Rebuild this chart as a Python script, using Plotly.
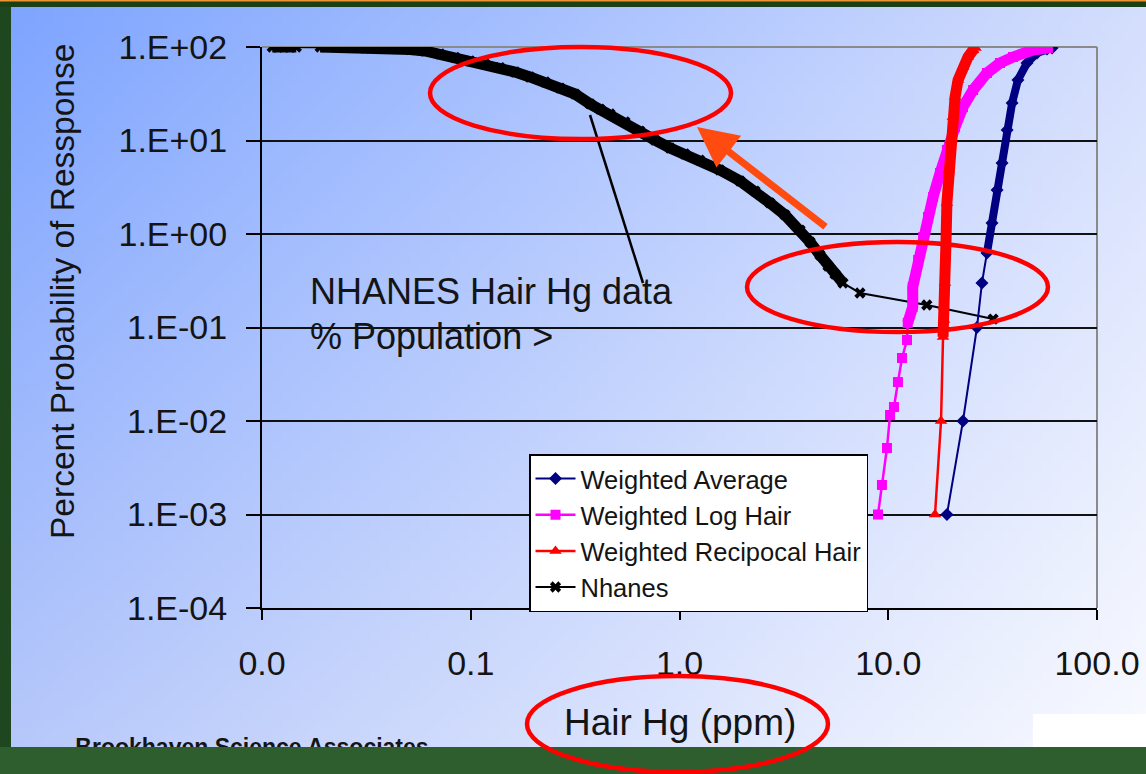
import plotly.graph_objects as go
import zlib, struct, base64

W, H = 1146, 774

# ---------------- data ----------------
x_tickvals = [0.01, 0.1, 1, 10, 100]
x_ticktext = ["0.0", "0.1", "1.0", "10.0", "100.0"]
y_tickvals = [1e-4, 1e-3, 1e-2, 1e-1, 1, 10, 100]
y_ticktext = ["1.E-04", "1.E-03", "1.E-02", "1.E-01", "1.E+00", "1.E+01", "1.E+02"]

avg_x = [19.1, 22.8, 26.6, 28.1, 29.7, 31.4, 33.2, 35.1, 37.1, 39.2, 41.8, 46.2, 51.6, 57.6, 60.9]
avg_y = [0.001, 0.01, 0.1, 0.299, 0.626, 1.31, 2.95, 5.74, 12.95, 25.2, 44.4, 67.4, 86.3, 95.2, 97.6]

log_x = [8.93, 9.33, 9.86, 10.2, 10.65, 11.13, 11.64, 12.3, 12.4, 13.1, 13.1, 13.9, 14.7, 15.5,
         16.4, 17.7, 19.1, 20.9, 22.8, 25.5, 29.7, 34.3, 39.6, 49.4, 58.2]
log_y = [0.001, 0.00207, 0.00514, 0.0116, 0.0141, 0.0261, 0.0472, 0.0735, 0.112, 0.166, 0.271,
         0.527, 0.929, 1.52, 2.49, 4.49, 7.91, 13.9, 22.8, 34.7, 52.7, 67.4, 78.2, 92.9, 97.6]

rec_x = [16.75, 17.9, 18.3, 18.5, 18.5, 18.7, 18.9, 19.1, 19.5, 20.0, 20.4, 20.9, 21.6, 22.8, 24.1, 25.5, 26.2]
rec_y = [0.001, 0.01, 0.0791, 0.120, 0.166, 0.299, 0.801, 2.15, 4.84, 10.1, 17.8, 29.2, 44.4, 61.1, 78.2, 92.9, 97.6]

nh_x = [0.0112, 0.0119, 0.0127, 0.0136, 0.0146,
        0.0190, 0.0224, 0.0264, 0.0311, 0.0368, 0.0434, 0.0512, 0.0604, 0.0712, 0.0841, 0.0992,
        0.117, 0.138, 0.163, 0.192, 0.227, 0.268, 0.316, 0.373, 0.416, 0.465, 0.548, 0.647,
        0.763, 0.901, 1.06, 1.25, 1.56, 1.95, 2.30, 2.71, 3.20, 3.78, 4.22, 4.71, 5.15, 5.56, 6.07,
        7.32, 15.3, 31.8]
nh_y = [100, 100, 100, 100, 100,
        100, 100, 98.8, 97.6, 97.6, 96.4, 94.0, 90.6, 84.1, 77.2, 70.8,
        65.8, 60.3, 54.0, 47.8, 42.2, 36.4, 31.4, 24.6, 21.7, 19.2, 15.8, 12.6,
        10.1, 8.32, 7.17, 6.18, 4.84, 3.69, 2.88, 2.15, 1.60, 1.10, 0.821, 0.596, 0.455, 0.373, 0.299,
        0.234, 0.174, 0.123]

# where the recorded points are packed so densely that they form a solid band
avg_dense_from = 4
log_dense_from = 8
rec_dense_from = 2
nh_dense_segments = [(0, 5), (5, 43)]

NAVY, MAGENTA, RED, BLACK = "#000080", "#FF00FF", "#FF0000", "#000000"
FONT = "Liberation Sans, Arial, sans-serif"
TXT = "#141414"


def P(px, py):
    return px / W, 1 - py / H


def gradient_png(w, h):
    TL, TR, BL, BR = (125, 164, 255), (212, 222, 253), (184, 201, 250), (250, 251, 255)
    rows = bytearray()
    for j in range(h):
        v = j / (h - 1)
        rows.append(0)
        for i in range(w):
            u = i / (w - 1)
            for c in range(3):
                val = (TL[c] * (1 - u) * (1 - v) + TR[c] * u * (1 - v)
                       + BL[c] * (1 - u) * v + BR[c] * u * v)
                rows.append(int(round(val)))

    def chunk(t, d):
        return struct.pack(">I", len(d)) + t + d + struct.pack(">I", zlib.crc32(t + d) & 0xffffffff)

    png = (b"\x89PNG\r\n\x1a\n"
           + chunk(b"IHDR", struct.pack(">IIBBBBB", w, h, 8, 2, 0, 0, 0))
           + chunk(b"IDAT", zlib.compress(bytes(rows), 9))
           + chunk(b"IEND", b""))
    return "data:image/png;base64," + base64.b64encode(png).decode()


fig = go.Figure()

# Nhanes (drawn first, below the others)
bx, by = [], []
for a, b in nh_dense_segments:
    bx += nh_x[a:b] + [None]
    by += nh_y[a:b] + [None]
fig.add_trace(go.Scatter(x=bx, y=by, mode="lines", line=dict(color=BLACK, width=11),
                         showlegend=False, hoverinfo="skip"))
fig.add_trace(go.Scatter(x=nh_x, y=nh_y, name="Nhanes", mode="lines+markers",
                         line=dict(color=BLACK, width=2),
                         marker=dict(symbol="x", size=10, color=BLACK), legendrank=4))

# Weighted Average
fig.add_trace(go.Scatter(x=avg_x[avg_dense_from:], y=avg_y[avg_dense_from:], mode="lines",
                         line=dict(color=NAVY, width=8), showlegend=False, hoverinfo="skip"))
fig.add_trace(go.Scatter(x=avg_x, y=avg_y, name="Weighted Average", mode="lines+markers",
                         line=dict(color=NAVY, width=2),
                         marker=dict(symbol="diamond", size=10, color=NAVY), legendrank=1))

# Weighted Log Hair
fig.add_trace(go.Scatter(x=log_x[log_dense_from:], y=log_y[log_dense_from:], mode="lines",
                         line=dict(color=MAGENTA, width=11), showlegend=False, hoverinfo="skip"))
fig.add_trace(go.Scatter(x=log_x, y=log_y, name="Weighted Log Hair", mode="lines+markers",
                         line=dict(color=MAGENTA, width=2.5),
                         marker=dict(symbol="square", size=10, color=MAGENTA), legendrank=2))

# Weighted Recipocal Hair
fig.add_trace(go.Scatter(x=rec_x[rec_dense_from:], y=rec_y[rec_dense_from:], mode="lines",
                         line=dict(color=RED, width=11), showlegend=False, hoverinfo="skip"))
fig.add_trace(go.Scatter(x=rec_x, y=rec_y, name="Weighted Recipocal Hair", mode="lines+markers",
                         line=dict(color=RED, width=2.5),
                         marker=dict(symbol="triangle-up", size=11, color=RED), legendrank=3))

# footer text, clipped by the slide's bottom band
fig.add_trace(go.Scatter(x=[252], y=[749], mode="text", text=["Brookhaven Science Associates"],
                         textfont=dict(family=FONT, size=23, color=TXT, weight="bold"),
                         textposition="middle center", cliponaxis=True,
                         xaxis="x2", yaxis="y2", showlegend=False, hoverinfo="skip"))

x0, y0 = P(262, 608)
x1, y1 = P(1097, 47)

fig.update_layout(
    width=W, height=H,
    autosize=False,
    margin=dict(l=0, r=0, t=0, b=0, pad=0, autoexpand=False),
    paper_bgcolor="#c8d6fb",
    plot_bgcolor="rgba(0,0,0,0)",
    font=dict(family=FONT, color=TXT),
    xaxis=dict(type="log", range=[-2, 2], domain=[x0, x1], anchor="y", automargin=False,
               showgrid=False, zeroline=False, showline=True, linecolor=BLACK, linewidth=2,
               ticks="outside", ticklen=10, tickwidth=2, tickcolor=BLACK,
               tickmode="array", tickvals=x_tickvals, ticktext=x_ticktext,
               tickfont=dict(size=34, family=FONT, color=TXT), ticklabelstandoff=14),
    yaxis=dict(type="log", range=[-4, 2], domain=[y0, y1], anchor="x", automargin=False,
               showgrid=True, gridcolor="#111111", gridwidth=1.5, zeroline=False,
               showline=True, linecolor=BLACK, linewidth=2,
               ticks="outside", ticklen=14, tickwidth=2, tickcolor=BLACK,
               tickmode="array", tickvals=y_tickvals, ticktext=y_ticktext,
               tickfont=dict(size=34, family=FONT, color=TXT), ticklabelstandoff=12),
    xaxis2=dict(domain=[0, 1], range=[0, W], visible=False, anchor="y2", fixedrange=True),
    yaxis2=dict(domain=[27 / H, 1], range=[747, 0], visible=False, anchor="x2", fixedrange=True),
    legend=dict(x=P(529, 0)[0], y=P(0, 454)[1], xanchor="left", yanchor="top",
                bgcolor="white", bordercolor=BLACK, borderwidth=1.5,
                font=dict(size=25.5, family=FONT, color=TXT), itemwidth=40,
                traceorder="normal"),
    showlegend=True,
)

# background gradient
fig.add_layout_image(dict(source=gradient_png(116, 78), xref="paper", yref="paper",
                          x=0, y=1, sizex=1, sizey=1, sizing="stretch",
                          xanchor="left", yanchor="top", layer="below"))

shapes = []


def rect(px0, py0, px1, py1, color, layer="below"):
    a, b = P(px0, py1)
    c, d = P(px1, py0)
    shapes.append(dict(type="rect", xref="paper", yref="paper", x0=a, y0=b, x1=c, y1=d,
                       fillcolor=color, line=dict(width=0), layer=layer))


rect(0, 0, W, 7, "#1B3F16")
rect(0, 0, W, 1.5, "#EE9430")
rect(0, 7, 11, 747, "#1F471F")
rect(1033, 714, W, 747, "#FFFFFF")
rect(0, 747, W, H, "#2E5E2E")

# plot-area frame (top & right, grey)
fx0, fy0 = P(262, 608)
fx1, fy1 = P(1097, 47)
shapes.append(dict(type="line", xref="paper", yref="paper", x0=fx0, x1=fx1, y0=fy1, y1=fy1,
                   line=dict(color="#8a8a8a", width=2), layer="below"))
shapes.append(dict(type="line", xref="paper", yref="paper", x0=fx1, x1=fx1, y0=fy0, y1=fy1,
                   line=dict(color="#8a8a8a", width=2), layer="below"))

# callout line
ax0, ay0 = P(590, 115)
ax1, ay1 = P(643, 283)
shapes.append(dict(type="line", xref="paper", yref="paper", x0=ax0, y0=ay0, x1=ax1, y1=ay1,
                   line=dict(color=BLACK, width=2.5), layer="above"))


def ellipse(px0, py0, px1, py1):
    a, b = P(px0, py1)
    c, d = P(px1, py0)
    shapes.append(dict(type="circle", xref="paper", yref="paper", x0=a, y0=b, x1=c, y1=d,
                       line=dict(color="#FF0000", width=4.5), fillcolor="rgba(0,0,0,0)",
                       layer="above"))


ellipse(430, 47, 731, 139)
ellipse(747, 242, 1048, 332)
ellipse(527, 676, 828, 772)

fig.update_layout(shapes=shapes)

annotations = []
tx, ty = P(63, 292)
annotations.append(dict(x=tx, y=ty, xref="paper", yref="paper", text="Percent Probability of Ressponse",
                        textangle=-90, showarrow=False, font=dict(size=33.5, family=FONT, color=TXT),
                        xanchor="center", yanchor="middle"))
tx, ty = P(680, 722)
annotations.append(dict(x=tx, y=ty, xref="paper", yref="paper", text="Hair Hg (ppm)",
                        showarrow=False, font=dict(size=37, family=FONT, color=TXT),
                        xanchor="center", yanchor="middle"))
tx, ty = P(308, 292)
annotations.append(dict(x=tx, y=ty, xref="paper", yref="paper", text="NHANES Hair Hg data",
                        showarrow=False, font=dict(size=36, family=FONT, color=TXT),
                        xanchor="left", yanchor="middle"))
tx, ty = P(308, 336)
annotations.append(dict(x=tx, y=ty, xref="paper", yref="paper", text="% Population >",
                        showarrow=False, font=dict(size=36, family=FONT, color=TXT),
                        xanchor="left", yanchor="middle"))
hx, hy = P(697, 127)
annotations.append(dict(x=hx, y=hy, xref="paper", yref="paper", ax=827 - 697, ay=228 - 127,
                        axref="pixel", ayref="pixel", text="", showarrow=True,
                        arrowhead=2, arrowsize=1.15, arrowwidth=7, arrowcolor="#FF4A10",
                        standoff=0))
fig.update_layout(annotations=annotations)

fig.write_html("out.html")
